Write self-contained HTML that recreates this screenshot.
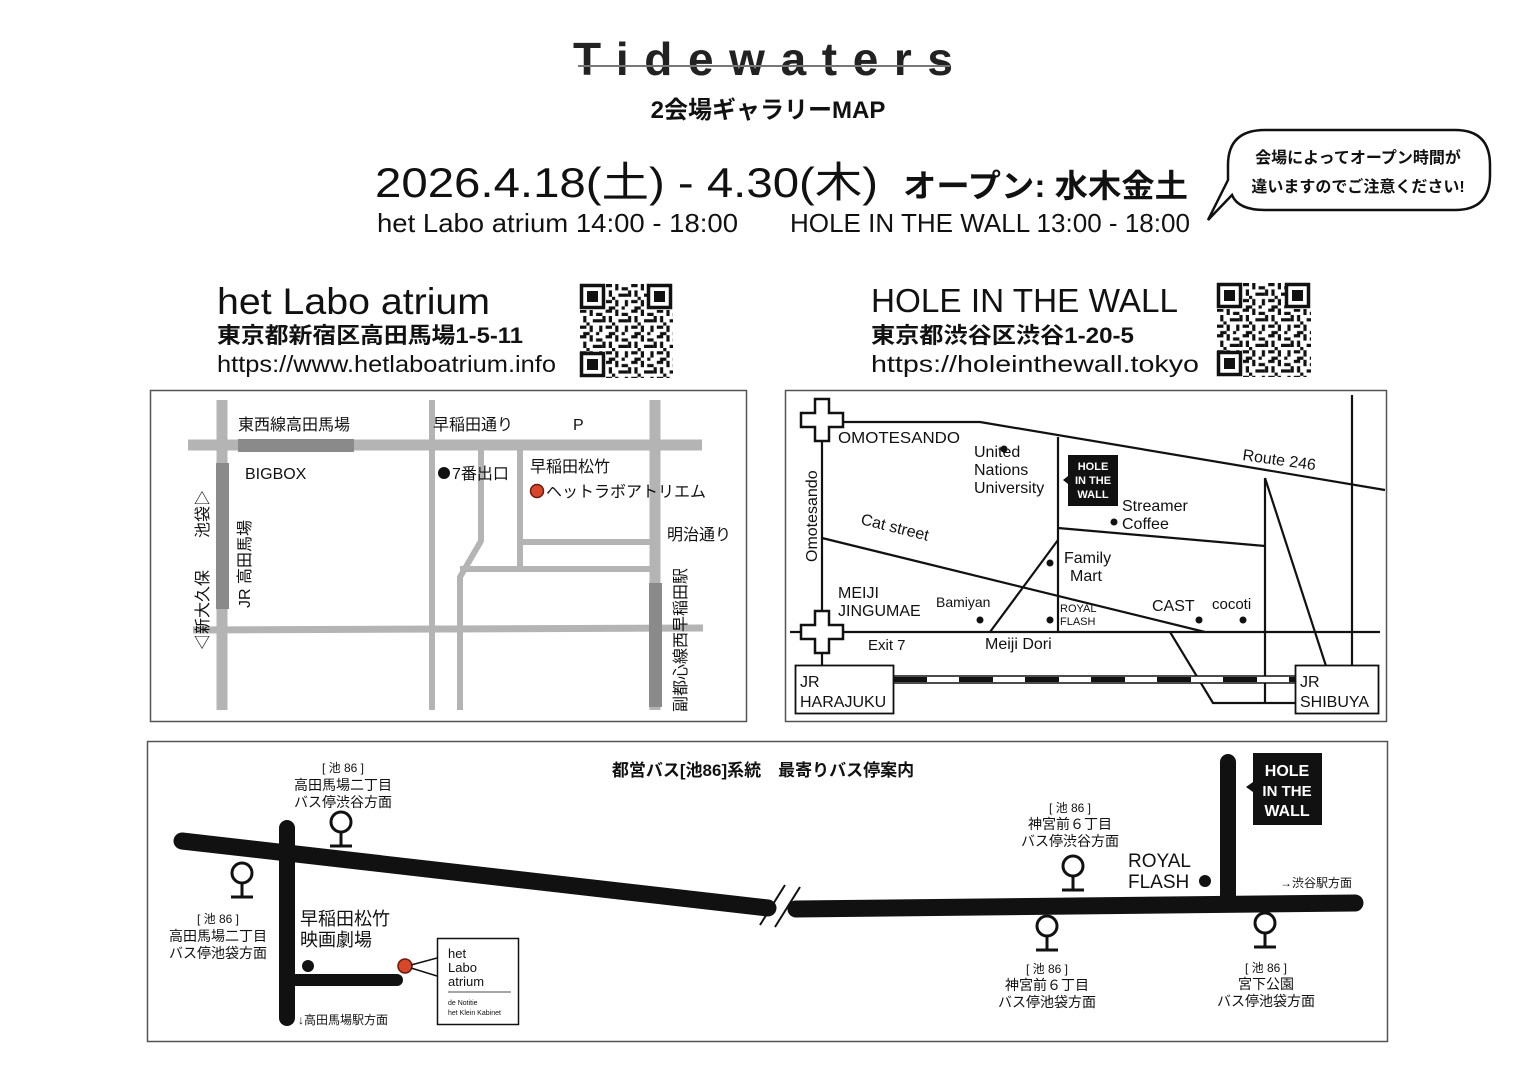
<!DOCTYPE html>
<html><head><meta charset="utf-8"><style>
html,body{margin:0;padding:0;background:#fff;}
svg{display:block;}
text{font-family:"Liberation Sans","Noto Sans CJK JP",sans-serif;fill:#111;}
.b{font-weight:bold;}
</style></head><body>
<svg width="1536" height="1086" viewBox="0 0 1536 1086" xmlns="http://www.w3.org/2000/svg">
<defs>
<pattern id="qr" x="0" y="0" width="25.6" height="25.6" patternUnits="userSpaceOnUse">
<rect x="0" y="0" width="6.4" height="3.2" fill="#111"/><rect x="9.6" y="0" width="3.2" height="6.4" fill="#111"/>
<rect x="16" y="3.2" width="6.4" height="3.2" fill="#111"/><rect x="3.2" y="6.4" width="3.2" height="6.4" fill="#111"/>
<rect x="12.8" y="9.6" width="9.6" height="3.2" fill="#111"/><rect x="0" y="16" width="6.4" height="3.2" fill="#111"/>
<rect x="9.6" y="16" width="3.2" height="6.4" fill="#111"/><rect x="19.2" y="16" width="3.2" height="6.4" fill="#111"/>
<rect x="3.2" y="22.4" width="6.4" height="3.2" fill="#111"/><rect x="16" y="22.4" width="3.2" height="3.2" fill="#111"/>
<rect x="22.4" y="6.4" width="3.2" height="6.4" fill="#111"/><rect x="6.4" y="12.8" width="3.2" height="3.2" fill="#111"/>
</pattern>
<g id="fp"><rect x="0" y="0" width="26" height="26" fill="#fff"/><rect x="1.5" y="1.5" width="22" height="22" fill="none" stroke="#111" stroke-width="3.5"/><rect x="7" y="7" width="11" height="11" fill="#111"/></g>
<g id="stop"><circle cx="0" cy="-24" r="10" fill="#fff" stroke="#111" stroke-width="3"/><line x1="0" y1="-14" x2="0" y2="0" stroke="#111" stroke-width="3"/><line x1="-11" y1="0" x2="11" y2="0" stroke="#111" stroke-width="3"/></g>
<g id="cross"><path d="M-7,-21 h14 v14 h14 v14 h-14 v14 h-14 v-14 h-14 v-14 h14 z" fill="#fff" stroke="#111" stroke-width="2.5"/></g>
</defs>

<!-- Header -->
<text x="763" y="75" text-anchor="middle" class="b" font-size="46" textLength="380" lengthAdjust="spacing" style="fill:#222">Tidewaters</text>
<line x1="578" y1="66" x2="950" y2="66" stroke="#777" stroke-width="2"/>
<text x="768" y="118" text-anchor="middle" class="b" font-size="24">2会場ギャラリーMAP</text>
<text x="375" y="197" font-size="42" textLength="503" lengthAdjust="spacingAndGlyphs">2026.4.18(土) - 4.30(木)</text>
<text x="903" y="197" class="b" font-size="32" textLength="285" lengthAdjust="spacingAndGlyphs">オープン: 水木金土</text>
<text x="377" y="232" font-size="26" textLength="361" lengthAdjust="spacingAndGlyphs">het Labo atrium 14:00 - 18:00</text>
<text x="790" y="232" font-size="26" textLength="400" lengthAdjust="spacingAndGlyphs">HOLE IN THE WALL 13:00 - 18:00</text>
<path d="M1265,130 H1455 Q1490,130 1490,165 V175 Q1490,210 1455,210 H1265 Q1238,210 1232,195 L1208,220 L1228,180 Q1228,175 1228,165 Q1228,130 1265,130 Z" fill="#fff" stroke="#111" stroke-width="2.5"/>
<text x="1358" y="163" text-anchor="middle" class="b" font-size="16">会場によってオープン時間が</text>
<text x="1358" y="192" text-anchor="middle" class="b" font-size="16">違いますのでご注意ください!</text>

<!-- venue headers -->
<text x="217" y="314" font-size="37" textLength="273" lengthAdjust="spacingAndGlyphs">het Labo atrium</text>
<text x="217" y="343" class="b" font-size="22" textLength="306" lengthAdjust="spacingAndGlyphs">東京都新宿区高田馬場1-5-11</text>
<text x="217" y="372" font-size="23" textLength="339" lengthAdjust="spacingAndGlyphs">https://www.hetlaboatrium.info</text>
<text x="871" y="312" font-size="33" textLength="307" lengthAdjust="spacingAndGlyphs">HOLE IN THE WALL</text>
<text x="871" y="343" class="b" font-size="22" textLength="263" lengthAdjust="spacingAndGlyphs">東京都渋谷区渋谷1-20-5</text>
<text x="871" y="372" font-size="23" textLength="328" lengthAdjust="spacingAndGlyphs">https://holeinthewall.tokyo</text>

<g transform="translate(580,284)"><rect width="93" height="94" fill="url(#qr)"/><use href="#fp"/><use href="#fp" x="67"/><use href="#fp" y="68"/></g>
<g transform="translate(1217,283)"><rect width="94" height="94" fill="url(#qr)"/><use href="#fp"/><use href="#fp" x="68"/><use href="#fp" y="68"/></g>

<!-- Left map -->
<rect x="150.5" y="390.5" width="596" height="331" fill="#fff" stroke="#555" stroke-width="1.5"/>
<g stroke="#b4b4b4" fill="none">
<line x1="188" y1="445" x2="702" y2="445" stroke-width="11"/>
<line x1="222" y1="400" x2="222" y2="710" stroke-width="11"/>
<line x1="655" y1="400" x2="655" y2="710" stroke-width="11"/>
<line x1="193" y1="630" x2="703" y2="628" stroke-width="7"/>
<line x1="432" y1="400" x2="432" y2="710" stroke-width="6"/>
<polyline points="481,450 481,541 460,577 460,710" stroke-width="6"/>
<line x1="520" y1="450" x2="520" y2="570" stroke-width="6"/>
<line x1="520" y1="542" x2="650" y2="542" stroke-width="6"/>
<line x1="460" y1="569" x2="650" y2="569" stroke-width="6"/>
</g>
<rect x="238" y="439" width="116" height="13" fill="#8a8a8a"/>
<rect x="216" y="463" width="13" height="146" fill="#8a8a8a"/>
<rect x="649" y="583" width="13" height="124" fill="#8a8a8a"/>
<g font-size="16" fill="#333">
<text x="238" y="430">東西線高田馬場</text>
<text x="433" y="430">早稲田通り</text>
<text x="573" y="430">P</text>
<text x="245" y="479">BIGBOX</text>
<text x="452" y="479">7番出口</text>
<text x="530" y="472">早稲田松竹</text>
<text x="546" y="497">ヘットラボアトリエム</text>
<text x="667" y="540">明治通り</text>
<text transform="translate(208,650) rotate(-90)">◁新大久保　　池袋▷</text>
<text transform="translate(250,608) rotate(-90)">JR 高田馬場</text>
<text transform="translate(686,712) rotate(-90)">副都心線西早稲田駅</text>
</g>
<circle cx="444" cy="473" r="6" fill="#111"/>
<circle cx="537" cy="491" r="6.5" fill="#d9472b" stroke="#6b1a0e" stroke-width="1.5"/>

<!-- Right map -->
<rect x="785.5" y="390.5" width="601" height="331" fill="#fff" stroke="#555" stroke-width="1.5"/>
<g stroke="#111" stroke-width="2.2" fill="none">
<line x1="822" y1="400" x2="822" y2="670"/>
<polyline points="800,422 980,422 1385,490"/>
<line x1="1058" y1="437" x2="1058" y2="632"/>
<line x1="1058" y1="528" x2="1265" y2="546"/>
<line x1="1265" y1="478" x2="1265" y2="702"/>
<line x1="1265" y1="478" x2="1326" y2="666"/>
<line x1="1352" y1="395" x2="1352" y2="666"/>
<line x1="822" y1="538" x2="1205" y2="632"/>
<line x1="1058" y1="540" x2="990" y2="632"/>
<line x1="790" y1="632" x2="1380" y2="632"/>
<polyline points="1170,632 1213,703 1298,703"/>
</g>
<rect x="893" y="676" width="403" height="7" fill="#fff" stroke="#111" stroke-width="1.5"/>
<line x1="893" y1="679.5" x2="1296" y2="679.5" stroke="#111" stroke-width="5" stroke-dasharray="34,32"/>
<use href="#cross" x="822" y="420"/>
<use href="#cross" x="822" y="632"/>
<rect x="795.5" y="665.5" width="98" height="48" fill="#fff" stroke="#111" stroke-width="1.8"/>
<rect x="1295.5" y="665.5" width="83" height="48" fill="#fff" stroke="#111" stroke-width="1.8"/>
<rect x="1068" y="455" width="50" height="51" fill="#111"/>
<path d="M1068,476 l-5,4 l5,4z" fill="#111"/>
<text x="1093" y="470" text-anchor="middle" font-size="11" class="b" style="fill:#fff">HOLE</text>
<text x="1093" y="484" text-anchor="middle" font-size="11" class="b" style="fill:#fff">IN THE</text>
<text x="1093" y="498" text-anchor="middle" font-size="11" class="b" style="fill:#fff">WALL</text>
<g font-size="16" fill="#222">
<text x="838" y="443" textLength="122" lengthAdjust="spacingAndGlyphs">OMOTESANDO</text>
<text x="974" y="457">United</text><text x="974" y="475">Nations</text><text x="974" y="493">University</text>
<text x="1122" y="511">Streamer</text><text x="1122" y="529">Coffee</text>
<text transform="translate(1242,460) rotate(8)">Route 246</text>
<text transform="translate(817,562) rotate(-90)">Omotesando</text>
<text transform="translate(860,524) rotate(14)">Cat street</text>
<text x="1064" y="563">Family</text><text x="1070" y="581">Mart</text>
<text x="838" y="598">MEIJI</text><text x="838" y="616">JINGUMAE</text>
<text x="936" y="607" font-size="14">Bamiyan</text>
<text x="1060" y="612" font-size="11">ROYAL</text><text x="1060" y="625" font-size="11">FLASH</text>
<text x="1152" y="611">CAST</text>
<text x="1212" y="609" font-size="15">cocoti</text>
<text x="868" y="650" font-size="15">Exit 7</text>
<text x="985" y="649">Meiji Dori</text>
<text x="800" y="687">JR</text><text x="800" y="707">HARAJUKU</text>
<text x="1300" y="687">JR</text><text x="1300" y="707">SHIBUYA</text>
</g>
<g fill="#111"><circle cx="1004" cy="449" r="3.5"/><circle cx="1114" cy="522" r="3.5"/><circle cx="1050" cy="563" r="3.5"/><circle cx="980" cy="620" r="3.5"/><circle cx="1050" cy="620" r="3.5"/><circle cx="1199" cy="620" r="3.5"/><circle cx="1243" cy="620" r="3.5"/></g>

<!-- Bottom map -->
<rect x="147.5" y="741.5" width="1240" height="300" fill="#fff" stroke="#555" stroke-width="1.5"/>
<text x="763" y="776" text-anchor="middle" class="b" font-size="17">都営バス[池86]系統　最寄りバス停案内</text>
<g stroke="#111" stroke-linecap="round" fill="none">
<line x1="182" y1="841" x2="768" y2="908" stroke-width="17"/>
<line x1="796" y1="909" x2="1355" y2="903" stroke-width="17"/>
<line x1="287" y1="828" x2="287" y2="1018" stroke-width="16"/>
<line x1="295" y1="980" x2="397" y2="980" stroke-width="12"/>
<line x1="1228" y1="762" x2="1228" y2="903" stroke-width="16"/>
</g>
<g stroke="#111" stroke-width="2"><line x1="760" y1="925" x2="785" y2="885"/><line x1="775" y1="927" x2="800" y2="887"/></g>
<use href="#stop" x="341" y="846"/>
<use href="#stop" x="242" y="897"/>
<use href="#stop" x="1073" y="890"/>
<use href="#stop" x="1047" y="950"/>
<use href="#stop" x="1265" y="947"/>
<g font-size="14" fill="#333" text-anchor="middle">
<text x="343" y="772" font-size="12">[ 池 86 ]</text><text x="343" y="790">高田馬場二丁目</text><text x="343" y="807">バス停渋谷方面</text>
<text x="218" y="923" font-size="12">[ 池 86 ]</text><text x="218" y="941">高田馬場二丁目</text><text x="218" y="958">バス停池袋方面</text>
<text x="1070" y="812" font-size="12">[ 池 86 ]</text><text x="1070" y="829">神宮前６丁目</text><text x="1070" y="846">バス停渋谷方面</text>
<text x="1047" y="973" font-size="12">[ 池 86 ]</text><text x="1047" y="990">神宮前６丁目</text><text x="1047" y="1007">バス停池袋方面</text>
<text x="1266" y="972" font-size="12">[ 池 86 ]</text><text x="1266" y="989">宮下公園</text><text x="1266" y="1006">バス停池袋方面</text>
</g>
<text x="300" y="925" font-size="18" fill="#222">早稲田松竹</text>
<text x="300" y="946" font-size="18" fill="#222">映画劇場</text>
<circle cx="308" cy="966" r="6" fill="#111"/>
<circle cx="405" cy="966" r="7" fill="#d9472b" stroke="#6b1a0e" stroke-width="1.5"/>
<path d="M411,965 L437,958 M411,968 L437,976" stroke="#111" stroke-width="1.5"/>
<rect x="437.5" y="938.5" width="81" height="86" fill="#fff" stroke="#111" stroke-width="1.5"/>
<text x="448" y="958" font-size="13" fill="#888">het</text>
<text x="448" y="972" font-size="13" fill="#888">Labo</text>
<text x="448" y="986" font-size="13" fill="#222">atrium</text>
<line x1="448" y1="992" x2="511" y2="992" stroke="#888" stroke-width="1.5"/>
<text x="448" y="1005" font-size="7" fill="#333">de Notitie</text>
<text x="448" y="1015" font-size="7" fill="#333">het Klein Kabinet</text>
<text x="298" y="1024" font-size="12" fill="#333">↓高田馬場駅方面</text>
<text x="1128" y="867" font-size="19" fill="#333">ROYAL</text>
<text x="1128" y="888" font-size="19" fill="#333">FLASH</text>
<circle cx="1205" cy="881" r="6" fill="#111"/>
<text x="1280" y="887" font-size="12" fill="#333">→渋谷駅方面</text>
<rect x="1253" y="753" width="69" height="72" fill="#111"/>
<path d="M1253,782 l-7,5 l7,5z" fill="#111"/>
<text x="1287" y="776" text-anchor="middle" font-size="16" class="b" style="fill:#fff">HOLE</text>
<text x="1287" y="796" text-anchor="middle" font-size="15" class="b" style="fill:#fff">IN THE</text>
<text x="1287" y="816" text-anchor="middle" font-size="16" class="b" style="fill:#fff">WALL</text>
</svg>
</body></html>
